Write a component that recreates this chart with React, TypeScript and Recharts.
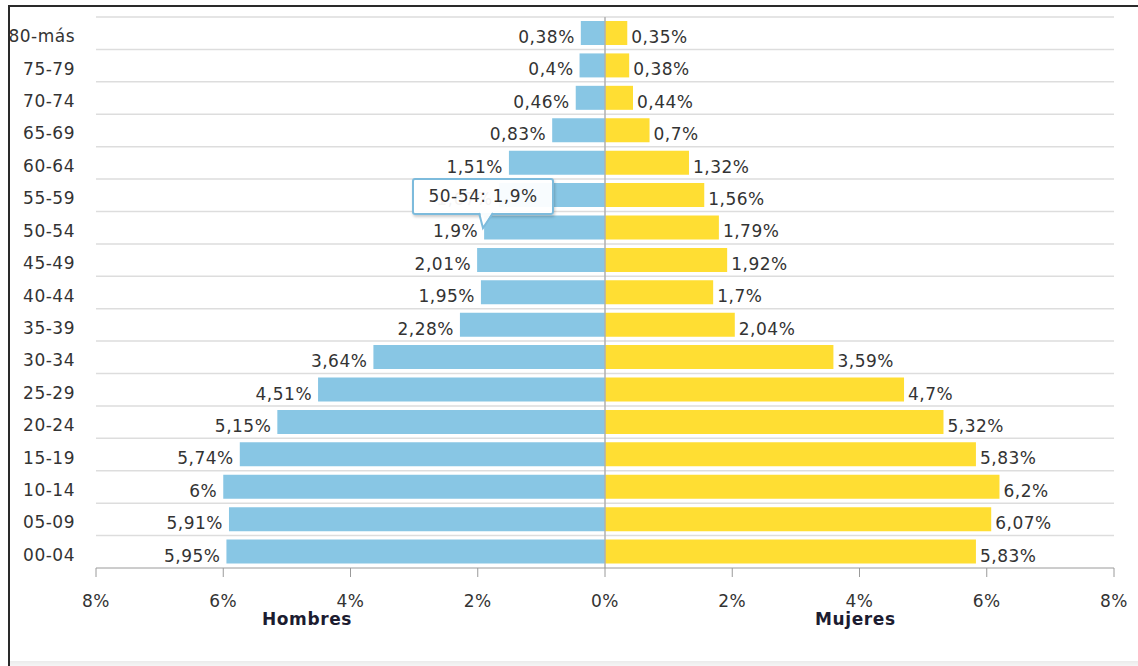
import {
  Bar,
  BarChart,
  CartesianGrid,
  LabelList,
  ReferenceLine,
  Tooltip,
  XAxis,
  YAxis,
} from "recharts";

const AGE_GROUPS = [
  "80-más", "75-79", "70-74", "65-69", "60-64", "55-59", "50-54", "45-49", "40-44",
  "35-39", "30-34", "25-29", "20-24", "15-19", "10-14", "05-09", "00-04",
];

const HOMBRES = [
  0.38, 0.4, 0.46, 0.83, 1.51, 1.67, 1.9, 2.01, 1.95,
  2.28, 3.64, 4.51, 5.15, 5.74, 6, 5.91, 5.95,
];

const MUJERES = [
  0.35, 0.38, 0.44, 0.7, 1.32, 1.56, 1.79, 1.92, 1.7,
  2.04, 3.59, 4.7, 5.32, 5.83, 6.2, 6.07, 5.83,
];

const X_TICKS = [-8, -6, -4, -2, 0, 2, 4, 6, 8];

const FONT = '"DejaVu Sans", Verdana, sans-serif';
const BLUE = "#88c6e4";
const YELLOW = "#ffde33";
const TEXT = "#333333";
const SPACING = 0.5;

function pct(value: number): string {
  return `${String(Math.abs(value)).replace(".", ",")}%`;
}

const data = AGE_GROUPS.map((age, i) => ({
  age,
  hombres: -HOMBRES[i],
  mujeres: MUJERES[i],
}));

function MaleLabel(props: any) {
  const { x, y, width, height, value } = props;
  const left = Math.min(Number(x), Number(x) + Number(width));
  return (
    <text x={left - 6} y={Number(y) + Number(height) / 2 + 10} textAnchor="end"
      fill={TEXT} fontSize={17} fontFamily={FONT} letterSpacing={SPACING}>
      {pct(Number(value))}
    </text>
  );
}

function FemaleLabel(props: any) {
  const { x, y, width, height, value } = props;
  const right = Math.max(Number(x), Number(x) + Number(width));
  return (
    <text x={right + 4} y={Number(y) + Number(height) / 2 + 10} textAnchor="start"
      fill={TEXT} fontSize={17} fontFamily={FONT} letterSpacing={SPACING}>
      {pct(Number(value))}
    </text>
  );
}

function AgeTick(props: any) {
  const { x, y, payload } = props;
  return (
    <text x={x} y={y + 9} textAnchor="end" fill={TEXT} fontSize={17} fontFamily={FONT} letterSpacing={SPACING}>
      {payload.value}
    </text>
  );
}

function PctTick(props: any) {
  const { x, y, payload } = props;
  return (
    <text x={x} y={y + 30} textAnchor="middle" fill={TEXT} fontSize={17} fontFamily={FONT} letterSpacing={SPACING}>
      {pct(payload.value)}
    </text>
  );
}

function PyramidTooltip({ active, payload, label }: any) {
  if (!active || !payload || !payload.length) return null;
  const male = payload.find((p: any) => p.dataKey === "hombres") ?? payload[0];
  return (
    <div style={{ position: "relative", width: 142, height: 37 }}>
      <div
        style={{
          boxSizing: "border-box",
          width: 142,
          height: 37,
          border: "2px solid #7dbbdc",
          borderRadius: 3,
          background: "rgba(255,255,255,0.94)",
          boxShadow: "1px 2px 3px rgba(0,0,0,0.2)",
          fontFamily: FONT,
          fontSize: 17,
          letterSpacing: SPACING,
          color: TEXT,
          lineHeight: "33px",
          textAlign: "center",
        }}
      >
        {label}: {pct(Number(male.value))}
      </div>
      <svg width={20} height={20} style={{ position: "absolute", left: 66, top: 33 }}>
        <polygon points="1,0 15,0 5,17 2,0" fill="rgba(255,255,255,0.95)" />
        <polyline points="1,2 5,17 15,2" fill="none" stroke="#7dbbdc" strokeWidth={2} />
      </svg>
    </div>
  );
}

export default function App() {
  return (
    <div style={{ position: "absolute", left: 0, top: 0, width: 1138, height: 666, background: "#fff", overflow: "hidden" }}>
      <BarChart
        width={1138}
        height={666}
        data={data}
        layout="vertical"
        stackOffset="sign"
        margin={{ top: 17, right: 24, bottom: 58, left: 20 }}
      >
        <CartesianGrid
          vertical={false}
          stroke="#dddddd"
          strokeWidth={1.5}
          horizontalCoordinatesGenerator={({ offset }: any) =>
            AGE_GROUPS.map((_, i) => offset.top + (i * offset.height) / AGE_GROUPS.length)
          }
        />
        <XAxis
          type="number"
          domain={[-8, 8]}
          ticks={X_TICKS}
          tick={<PctTick />}
          tickSize={9}
          tickMargin={0}
          height={40}
          stroke="#9a9a9a"
          interval={0}
        />
        <YAxis
          type="category"
          dataKey="age"
          width={76}
          tick={<AgeTick />}
          tickSize={0}
          tickMargin={21}
          axisLine={false}
          tickLine={false}
          interval={0}
        />
        <Tooltip
          active
          defaultIndex={6}
          cursor={false}
          isAnimationActive={false}
          position={{ x: 412, y: 178 }}
          content={<PyramidTooltip />}
          wrapperStyle={{ outline: "none", zIndex: 5 }}
        />
        <Bar dataKey="hombres" stackId="p" fill={BLUE} barSize={24} isAnimationActive={false}>
          <LabelList dataKey="hombres" content={<MaleLabel />} />
        </Bar>
        <Bar dataKey="mujeres" stackId="p" fill={YELLOW} barSize={24} isAnimationActive={false}>
          <LabelList dataKey="mujeres" content={<FemaleLabel />} />
        </Bar>
        <ReferenceLine x={0} stroke="#b0b0b0" strokeWidth={1.5} />
      </BarChart>
      <div style={{ position: "absolute", left: 262, top: 609, fontFamily: FONT, fontWeight: "bold", fontSize: 17, letterSpacing: 0.6, color: "#1c1c30" }}>
        Hombres
      </div>
      <div style={{ position: "absolute", left: 815, top: 609, fontFamily: FONT, fontWeight: "bold", fontSize: 17, letterSpacing: 0.6, color: "#1c1c30" }}>
        Mujeres
      </div>
      <div style={{ position: "absolute", left: 0, top: 0, width: 8, height: 666, background: "#fff" }} />
      <div style={{ position: "absolute", left: 8, top: 5, width: 1130, height: 2, background: "#2a2a2a" }} />
      <div style={{ position: "absolute", left: 8, top: 5, width: 2, height: 661, background: "#2a2a2a" }} />
      <div style={{ position: "absolute", left: 10, top: 661, width: 1128, height: 5, background: "linear-gradient(#ebebeb, #f5f5f5)" }} />
    </div>
  );
}
